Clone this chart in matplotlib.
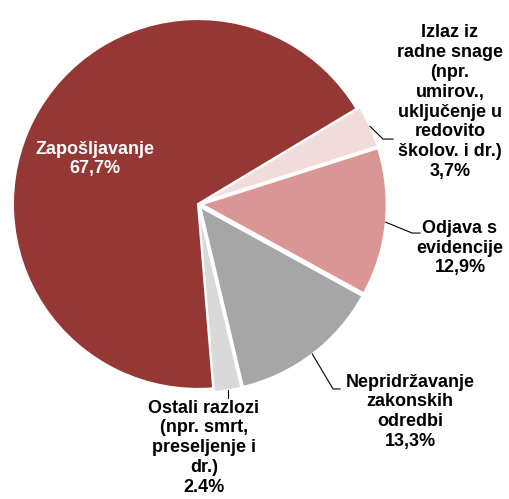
import numpy as np
import matplotlib.pyplot as plt

# data, clockwise from the top-right
labels = ["Izlaz iz\nradne snage\n(npr.\numirov.,\nuključenje u\nredovito\nškolov. i dr.)",
          "Odjava s\nevidencije",
          "Nepridržavanje\nzakonskih\nodredbi",
          "Ostali razlozi\n(npr. smrt,\npreseljenje i\ndr.)",
          "Zapošljavanje"]
values = [3.7, 12.9, 13.3, 2.4, 67.7]
value_labels = ["3,7%", "12,9%", "13,3%", "2.4%", "67,7%"]
colors = ["#F2DCDB", "#D99694", "#A6A6A6", "#D9D9D9", "#953735"]

plt.rcParams['font.family'] = ['Liberation Sans', 'DejaVu Sans']

fig = plt.figure(figsize=(5.09, 4.99), dpi=100)
ax = fig.add_axes([0, 0, 1, 1])

explode = [0.02, 0.02, 0.02, 0.02, 0]
wedges, _ = ax.pie(values, colors=colors, startangle=31, counterclock=False,
                   explode=explode,
                   wedgeprops=dict(edgecolor='white', linewidth=1.5))
ax.set_aspect('auto')
ax.set_xlim(-1.070, 1.681)
ax.set_ylim(-1.595, 1.103)
ax.axis('off')

# label placement: text centre, knee and end of leader line
text_pos = [(1.362, 0.551), (1.416, -0.238), (1.146, -1.124), (0.032, -1.318), (-0.557, 0.243)]
knees = [(1.0, 0.351), (1.157, -0.157), (0.730, -1.0), None, None]
ends = [(1.054, 0.351), (1.2, -0.157), (0.768, -1.0), (None, -1.05), None]

for i, w in enumerate(wedges):
    txt = labels[i] + "\n" + value_labels[i]
    col = 'white' if i == 4 else 'black'
    ax.text(*text_pos[i], txt, ha='center', va='center', fontsize=13,
            fontweight='bold', color=col, linespacing=1.22)
    if i == 4:
        continue
    ang = np.deg2rad((w.theta1 + w.theta2) / 2)
    cx, cy = w.center
    ax_, ay_ = cx + w.r * np.cos(ang), cy + w.r * np.sin(ang)
    if knees[i] is None:
        ax.plot([ax_, ax_], [ay_, ends[i][1]], color='black', lw=0.8)
    else:
        ax.plot([ax_, knees[i][0], ends[i][0]], [ay_, knees[i][1], ends[i][1]],
                color='black', lw=0.8)

fig.savefig("out.png", dpi=100)
